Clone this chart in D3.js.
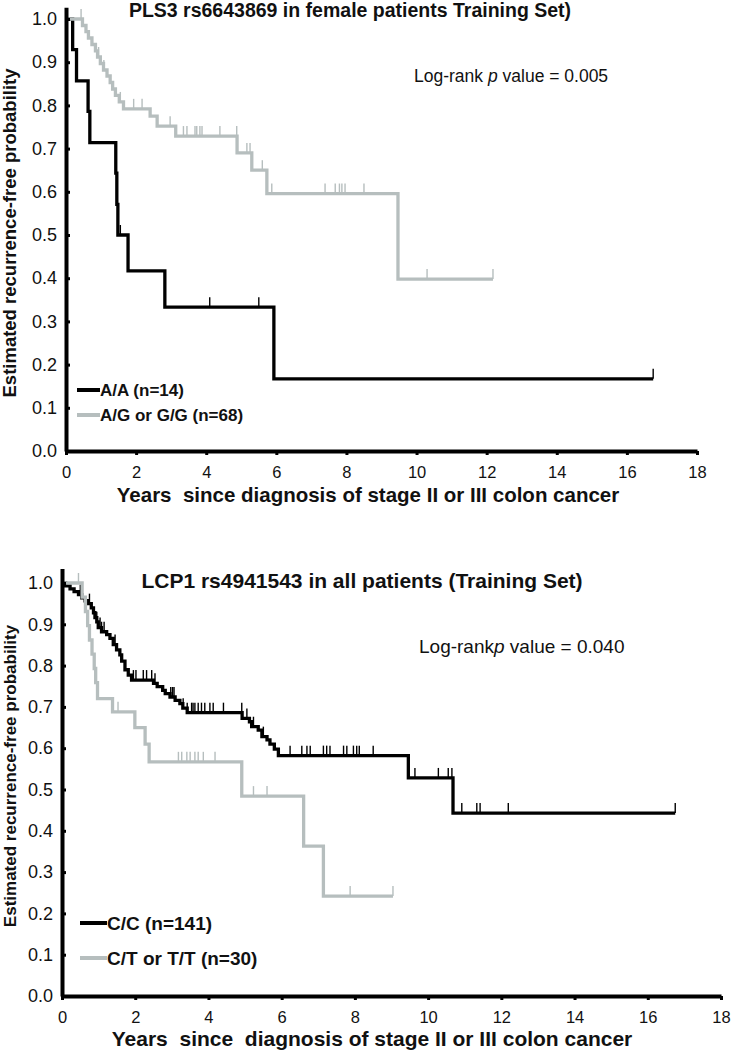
<!DOCTYPE html>
<meta charset="utf-8">
<script src="https://d3js.org/d3.v7.min.js"></script>
<style>
  body { margin: 0; background: #fff; }
  svg { display: block; }
  text { font-family: "Liberation Sans", Arial, sans-serif; fill: #111; }
</style>
<svg id="chart" width="731" height="1050"></svg>
<script>
// axis ticks
var yearTicks = [0, 2, 4, 6, 8, 10, 12, 14, 16, 18];
var probTicks = [0, 0.1, 0.2, 0.3, 0.4, 0.5, 0.6, 0.7, 0.8, 0.9, 1.0];

// PLS3 panel - A/A
var plsAATimes  = [0.19, 0.30, 0.63, 0.68, 1.42, 1.45, 1.48, 1.77, 2.82, 5.93];
var plsAAValues = [0.929, 0.857, 0.786, 0.714, 0.643, 0.571, 0.5, 0.417, 0.333, 0.167];
var plsAACensor = [1.55, 4.10, 5.50, 16.75];
var plsAAEnd = 16.75;

// PLS3 panel - A/G or G/G
var plsAGTimes  = [0.47, 0.57, 0.64, 0.74, 0.84, 0.90, 0.98, 1.07, 1.17, 1.26, 1.33, 1.41, 1.52, 1.64,
                   2.40, 2.60, 3.13, 4.88, 5.30, 5.73, 9.47];
var plsAGValues = [0.985, 0.971, 0.956, 0.941, 0.926, 0.912, 0.897, 0.882, 0.868, 0.853, 0.838, 0.823, 0.808, 0.792,
                   0.775, 0.752, 0.729, 0.690, 0.650, 0.596, 0.398];
var plsAGCensor = [0.43, 0.93, 1.08, 1.55, 1.93, 2.17, 2.97, 3.35, 3.45, 3.68, 3.73, 3.82, 3.88, 4.39, 4.87,
                   5.16, 5.25, 5.60, 5.87, 7.39, 7.68, 7.80, 7.87, 7.96, 8.50, 10.30, 12.18];
var plsAGEnd = 12.18;

// LCP1 panel - C/C
var lcpCCTimes  = [0.10, 0.22, 0.33, 0.45, 0.54, 0.63, 0.72, 0.80, 0.86, 0.90, 0.95, 0.99, 1.08, 1.22, 1.31,
                   1.40, 1.49, 1.58, 1.63, 1.72, 1.81, 1.90, 2.50, 2.60, 2.75, 2.82, 2.95, 3.09, 3.22, 3.30,
                   3.42, 4.92, 5.12, 5.18, 5.36, 5.46, 5.60, 5.68, 5.80, 5.91, 9.46, 10.68];
var lcpCCValues = [0.993, 0.986, 0.979, 0.972, 0.964, 0.957, 0.950, 0.940, 0.928, 0.916, 0.906, 0.892, 0.882, 0.875, 0.866,
                   0.851, 0.838, 0.826, 0.811, 0.790, 0.777, 0.765, 0.757, 0.749, 0.740, 0.732, 0.724, 0.716, 0.708, 0.697,
                   0.686, 0.672, 0.664, 0.652, 0.644, 0.628, 0.620, 0.610, 0.598, 0.582, 0.528, 0.443];
var lcpCCCensor = [0.50, 0.75, 0.95, 1.04, 1.08, 1.15, 1.45, 1.95, 2.02, 2.22, 2.31, 2.45, 2.54, 2.97, 3.02, 3.06,
                   3.31, 3.42, 3.54, 3.58, 3.63, 3.72, 3.81, 3.90, 4.04, 4.13, 4.41, 4.91, 5.05, 5.23, 5.50,
                   6.23, 6.55, 6.69, 6.78, 7.14, 7.23, 7.32, 7.69, 7.78, 7.96, 8.05, 8.12, 8.50, 9.64, 10.28,
                   10.55, 10.65, 10.92, 11.33, 11.42, 12.19, 16.75];
var lcpCCEnd = 16.75;

// LCP1 panel - C/T or T/T
var lcpCTTimes  = [0.55, 0.64, 0.70, 0.75, 0.82, 0.88, 0.92, 0.97, 1.38, 1.99, 2.27, 2.38, 4.91, 6.60, 7.14];
var lcpCTValues = [0.966, 0.931, 0.897, 0.862, 0.828, 0.793, 0.759, 0.720, 0.688, 0.650, 0.610, 0.567, 0.484, 0.363, 0.242];
var lcpCTCensor = [0.45, 1.53, 3.18, 3.27, 3.41, 3.50, 3.63, 3.72, 3.86, 4.18, 5.23, 5.60, 7.87, 9.04];
var lcpCTEnd = 9.04;

var black = "#000", grey = "#b6bebe";
var svg = d3.select("#chart");

function survivalAt(times, values, t) {
  var i = d3.bisectRight(times, t);
  return i === 0 ? 1 : values[i - 1];
}

function drawPanel(p) {
  var g = svg.append("g");
  var x = d3.scaleLinear().domain([0, 18]).range([p.left, p.right]);
  var y = d3.scaleLinear().domain([0, 1]).range([p.bottom, p.top]);
  var yAx = d3.scaleLinear().domain([0, p.yMax]).range([y(0), y(p.yMax)]);

  // curves: black first, grey drawn over it
  p.series.forEach(function(s) {
    var pts = [[0, 1]].concat(s.times.map(function(t, i) { return [t, s.values[i]]; }));
    pts.push([s.end, s.values[s.values.length - 1]]);
    g.append("path")
      .attr("d", d3.line().x(d => x(d[0])).y(d => y(d[1])).curve(d3.curveStepAfter)(pts))
      .attr("fill", "none")
      .attr("stroke", s.color)
      .attr("stroke-width", 3.3);
    g.append("g").selectAll("line")
      .data(s.censor)
      .enter().append("line")
      .attr("x1", d => x(d)).attr("x2", d => x(d))
      .attr("y1", d => y(survivalAt(s.times, s.values, d)))
      .attr("y2", d => y(survivalAt(s.times, s.values, d)) - p.tick)
      .attr("stroke", s.color)
      .attr("stroke-width", 1.4);
  });

  // axes
  var xa = g.append("g")
    .attr("transform", "translate(0," + y(0) + ")")
    .call(d3.axisBottom(x).tickValues(yearTicks).tickFormat(d3.format("d"))
      .tickSizeInner(4).tickSizeOuter(0).tickPadding(p.xPad));
  var ya = g.append("g")
    .attr("transform", "translate(" + x(0) + ",0)")
    .call(d3.axisLeft(yAx).tickValues(probTicks).tickFormat(d3.format(".1f"))
      .tickSizeInner(-4).tickSizeOuter(0).tickPadding(p.yPad));
  [xa, ya].forEach(function(a) {
    a.select(".domain").attr("stroke", "#000").attr("stroke-width", 4);
    a.selectAll(".tick line").attr("stroke", "#000").attr("stroke-width", 3);
    a.selectAll(".tick text").attr("fill", "#111").style("font-family", "Liberation Sans, Arial, sans-serif");
  });
  xa.selectAll(".tick text").style("font-size", p.xTickSize + "px");
  ya.selectAll(".tick text").style("font-size", p.yTickSize + "px");

  // titles
  g.append("text").attr("x", p.titleX).attr("y", p.titleY)
    .attr("text-anchor", "middle").style("font-weight", "bold").style("font-size", p.titleSize + "px")
    .text(p.title);
  g.append("text").attr("x", p.xLabelX).attr("y", p.xLabelY)
    .attr("text-anchor", "middle").style("font-weight", "bold").style("font-size", p.xLabelSize + "px")
    .attr("xml:space", "preserve")
    .text(p.xLabel);
  g.append("text")
    .attr("transform", "translate(" + p.yLabelX + "," + p.yLabelY + ") rotate(-90)")
    .attr("text-anchor", "middle").style("font-weight", "bold").style("font-size", p.yLabelSize + "px")
    .text("Estimated recurrence-free probability");

  // log-rank text
  var lr = g.append("text").attr("x", p.pX).attr("y", p.pY).style("font-size", p.pSize + "px")
    .attr("xml:space", "preserve");
  lr.append("tspan").text(p.pPre);
  lr.append("tspan").style("font-style", "italic").text("p");
  lr.append("tspan").text(" value = " + p.pValue);

  // legend: black entry first, grey below
  p.series.forEach(function(s, i) {
    var ly = p.legY + i * p.legGap;
    g.append("line").attr("x1", p.legX).attr("x2", p.legX + p.legLen)
      .attr("y1", ly).attr("y2", ly).attr("stroke", s.color).attr("stroke-width", 4);
    g.append("text").attr("x", p.legX + p.legLen).attr("y", ly + p.legSize * 0.38)
      .style("font-weight", "bold").style("font-size", p.legSize + "px").text(s.label);
  });
}

drawPanel({
  left: 66, right: 697, top: 19, bottom: 451, yMax: 1.027, tick: 10,
  xPad: 11, yPad: 9, xTickSize: 16.5, yTickSize: 18,
  title: "PLS3 rs6643869 in female patients Training Set)", titleX: 350, titleY: 17, titleSize: 19.5,
  xLabel: "Years  since diagnosis of stage II or III colon cancer", xLabelX: 368, xLabelY: 502, xLabelSize: 20.5,
  yLabelX: 16, yLabelY: 233, yLabelSize: 18.5,
  pX: 414, pY: 82, pSize: 17.5, pPre: "Log-rank ", pValue: "0.005",
  legX: 77, legLen: 23, legY: 390, legGap: 25, legSize: 17,
  series: [
    { label: "A/A (n=14)", color: black, times: plsAATimes, values: plsAAValues, censor: plsAACensor, end: plsAAEnd },
    { label: "A/G or G/G (n=68)", color: grey, times: plsAGTimes, values: plsAGValues, censor: plsAGCensor, end: plsAGEnd }
  ]
});

drawPanel({
  left: 62, right: 721, top: 583, bottom: 996, yMax: 1.035, tick: 10,
  xPad: 11, yPad: 9, xTickSize: 16.5, yTickSize: 18,
  title: "LCP1 rs4941543 in all patients (Training Set)", titleX: 362, titleY: 588, titleSize: 21,
  xLabel: "Years  since  diagnosis of stage II or III colon cancer", xLabelX: 372, xLabelY: 1046, xLabelSize: 21,
  yLabelX: 16, yLabelY: 776, yLabelSize: 17,
  pX: 419, pY: 653, pSize: 19, pPre: "Log-rank", pValue: "0.040",
  legX: 80, legLen: 27, legY: 923, legGap: 35, legSize: 19,
  series: [
    { label: "C/C (n=141)", color: black, times: lcpCCTimes, values: lcpCCValues, censor: lcpCCCensor, end: lcpCCEnd },
    { label: "C/T or T/T (n=30)", color: grey, times: lcpCTTimes, values: lcpCTValues, censor: lcpCTCensor, end: lcpCTEnd }
  ]
});
</script>
